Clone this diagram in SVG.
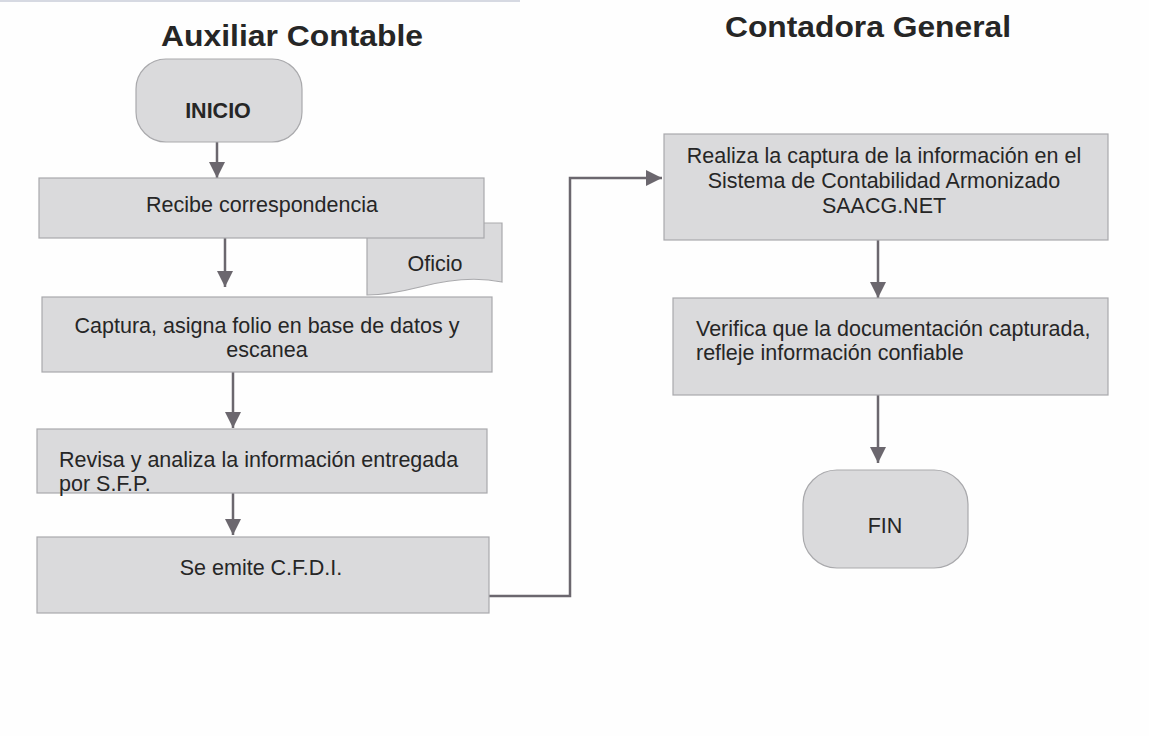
<svg xmlns="http://www.w3.org/2000/svg" width="1149" height="736" viewBox="0 0 1149 736">
<defs>
<style>
.box{fill:#dadadc;stroke:#a9a9ac;stroke-width:1.2}
.t{font-family:"Liberation Sans",Arial,sans-serif;font-size:21.5px;fill:#262626}
.c{text-anchor:middle}
.h{font-family:"Liberation Sans",Arial,sans-serif;font-size:29px;font-weight:bold;fill:#262626;text-anchor:middle}
.conn{fill:none;stroke:#6b676e;stroke-width:2.5}
</style>
<marker id="ah" markerUnits="userSpaceOnUse" markerWidth="18" markerHeight="16" refX="16" refY="8" orient="auto">
<path d="M0,0 L16,8 L0,16 Z" fill="#6b676e"/>
</marker>
</defs>
<rect width="1149" height="736" fill="#fefefe"/>
<line x1="0" y1="1" x2="520" y2="1" stroke="#c9ccd8" stroke-width="1.5"/>
<text class="h" x="292" y="46" textLength="262" lengthAdjust="spacingAndGlyphs">Auxiliar Contable</text>
<text class="h" x="868" y="37" textLength="286" lengthAdjust="spacingAndGlyphs">Contadora General</text>
<g id="connectors">
<path class="conn" d="M217,142 V178" marker-end="url(#ah)"/>
<path class="conn" d="M225,238 V287" marker-end="url(#ah)"/>
<path class="conn" d="M233,372 V428" marker-end="url(#ah)"/>
<path class="conn" d="M233,493 V535" marker-end="url(#ah)"/>
<path class="conn" d="M489,596 H570 V178 H662" marker-end="url(#ah)"/>
<path class="conn" d="M878,240 V298" marker-end="url(#ah)"/>
<path class="conn" d="M878,395 V463" marker-end="url(#ah)"/>
</g>
<g id="inicio">
<rect class="box" x="136" y="59" width="166" height="83" rx="30" ry="30"/>
<text class="t c" x="218" y="118" style="font-weight:bold">INICIO</text>
</g>
<g id="oficio">
<path class="box" d="M367,223 H502 V282 C478,277 450,279 420,287 C400,292 384,295 367,295 Z"/>
<text class="t c" x="435" y="271">Oficio</text>
</g>
<g id="recibe">
<rect class="box" x="39" y="178" width="445" height="60"/>
<text class="t c" x="262" y="212">Recibe correspondencia</text>
</g>
<g id="captura">
<rect class="box" x="42" y="297" width="450" height="75"/>
<text class="t c" x="267" y="333">Captura, asigna folio en base de datos y</text>
<text class="t c" x="267" y="357">escanea</text>
</g>
<g id="revisa">
<rect class="box" x="37" y="429" width="450" height="64"/>
<text class="t" x="59" y="467">Revisa y analiza la información entregada</text>
<text class="t" x="59" y="491">por S.F.P.</text>
</g>
<g id="emite">
<rect class="box" x="37" y="537" width="452" height="76"/>
<text class="t c" x="261" y="575">Se emite C.F.D.I.</text>
</g>
<g id="realiza">
<rect class="box" x="664" y="134" width="444" height="106"/>
<text class="t c" x="884" y="163">Realiza la captura de la información en el</text>
<text class="t c" x="884" y="188">Sistema de Contabilidad Armonizado</text>
<text class="t c" x="884" y="213">SAACG.NET</text>
</g>
<g id="verifica">
<rect class="box" x="673" y="298" width="435" height="97"/>
<text class="t" x="696" y="336">Verifica que la documentación capturada,</text>
<text class="t" x="696" y="360">refleje información confiable</text>
</g>
<g id="fin">
<rect class="box" x="803" y="470" width="165" height="98" rx="34" ry="34"/>
<text class="t c" x="885" y="533">FIN</text>
</g>
</svg>
